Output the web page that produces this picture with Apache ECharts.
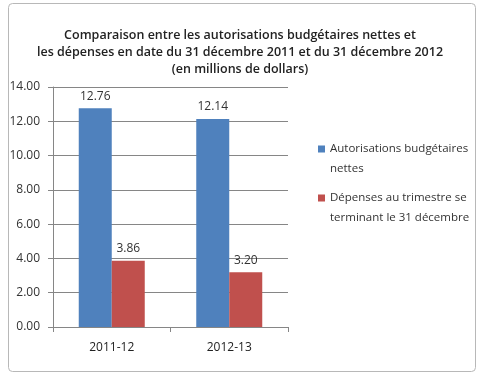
<!DOCTYPE html>
<html><head><meta charset="utf-8">
<script src="https://cdn.jsdelivr.net/npm/echarts@6/dist/echarts.min.js"></script>
<style>html,body{margin:0;padding:0;background:#fff}#c{width:480px;height:378px}</style>
</head><body><div id="c"></div>
<script>
const categories = ['2011-12', '2012-13'];
const seriesNames = ['Autorisations budgétaires\nnettes', 'Dépenses au trimestre se\nterminant le 31 décembre'];
const autorisations = [12.76, 12.14];
const depenses = [3.86, 3.20];
const yTicks = { min: 0, max: 14, interval: 2 };
const titleLines = ['Comparaison entre les autorisations budgétaires nettes et', 'les dépenses en date du 31 décembre 2011 et du 31 décembre 2012', '(en millions de dollars)'];

const FONT = "'Open Sans',sans-serif";
const chart = echarts.init(document.getElementById('c'), null, {renderer: 'canvas'});
chart.setOption({
  animation: false,
  backgroundColor: '#fff',
  graphic: [{
    type: 'rect', shape: {x: 8.5, y: 3.5, width: 467, height: 368, r: 4},
    style: {fill: 'none', stroke: '#b8b8b8', lineWidth: 1}, silent: true
  }],
  title: {
    text: titleLines.join('\n'), left: 'center', top: 22,
    textStyle: {fontFamily: FONT, fontSize: 12.5, fontWeight: 600, color: '#222', lineHeight: 17}
  },
  legend: {
    orient: 'vertical', left: 313, top: 134, itemWidth: 7, itemHeight: 27, itemGap: 9,
    icon: 'path://M0,0h7v7h-7z M0,27h0.01v0.01h-0.01z',
    textStyle: {fontFamily: FONT, fontSize: 11.5, color: '#333', lineHeight: 20},
    data: seriesNames
  },
  grid: {left: 53, right: 192, top: 87, bottom: 51, containLabel: false},
  xAxis: {
    type: 'category', data: categories,
    axisLine: {lineStyle: {color: '#868686'}},
    axisTick: {show: true, length: 5, lineStyle: {color: '#868686'}},
    axisLabel: {fontFamily: FONT, fontSize: 12, color: '#222', margin: 15}
  },
  yAxis: {
    type: 'value', min: yTicks.min, max: yTicks.max, interval: yTicks.interval,
    axisLine: {show: true, lineStyle: {color: '#868686'}},
    axisTick: {show: true, length: 5, lineStyle: {color: '#868686'}},
    splitLine: {lineStyle: {color: '#868686'}},
    axisLabel: {fontFamily: FONT, fontSize: 12, color: '#333', margin: 13,
      formatter: v => v.toFixed(2)}
  },
  series: [
    {name: seriesNames[0], type: 'bar', data: autorisations, barWidth: 33, barGap: '0%',
      itemStyle: {color: '#4F81BD'},
      label: {show: true, position: 'top', fontFamily: FONT, fontSize: 12, color: '#333', formatter: p => p.value.toFixed(2), distance: 6}},
    {name: seriesNames[1], type: 'bar', data: depenses, barWidth: 33,
      itemStyle: {color: '#C0504D'},
      label: {show: true, position: 'top', fontFamily: FONT, fontSize: 12, color: '#333', formatter: p => p.value.toFixed(2), distance: 6}}
  ]
});
</script></body></html>
